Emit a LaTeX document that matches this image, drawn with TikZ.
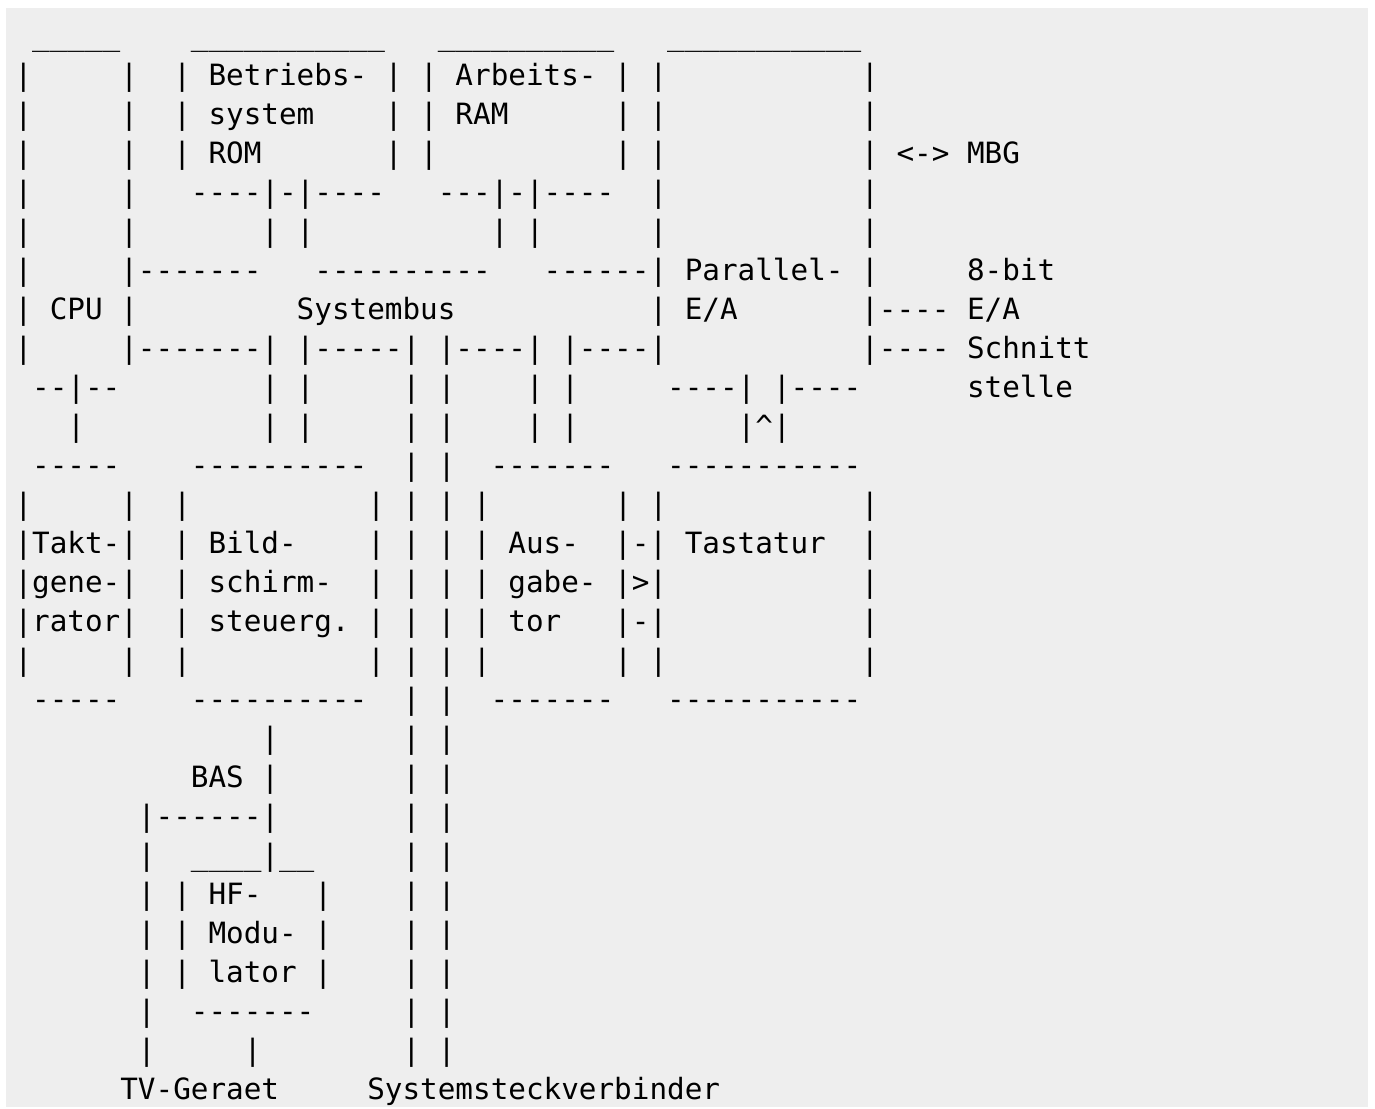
\documentclass[tikz,border=0pt]{standalone}
\usepackage{fontspec}
\setmonofont{DejaVu Sans Mono}
\newcommand\gap[1]{\hspace*{#1\fontcharwd\font`x}}
\definecolor{codebg}{HTML}{EEEEEE}
\tikzset{
  ln/.style={anchor=base west, inner sep=0pt, outer sep=0pt,
    font=\ttfamily\fontsize{14.65}{18}\selectfont, text=black}
}
\begin{document}
\begin{tikzpicture}[x=0.5pt,y=-0.5pt]
\useasboundingbox (0,0) rectangle (1375,1108);
\fill[codebg] (6,8) rectangle (1368,1107);
\node[ln] (l0)  at (14.5,46)  {~\_\_\_\_\_\gap{4}\_\_\_\_\_\_\_\_\_\_\_\gap{3}\_\_\_\_\_\_\_\_\_\_\gap{3}\_\_\_\_\_\_\_\_\_\_\_};
\node[ln] (l1)  at (14.5,85)  {|\gap{5}|\gap{2}|~Betriebs-~|~|~Arbeits-~|~|\gap{11}|};
\node[ln] (l2)  at (14.5,124) {|\gap{5}|\gap{2}|~system\gap{4}|~|~RAM\gap{6}|~|\gap{11}|};
\node[ln] (l3)  at (14.5,163) {|\gap{5}|\gap{2}|~ROM\gap{7}|~|\gap{10}|~|\gap{11}|~<->~MBG};
\node[ln] (l4)  at (14.5,202) {|\gap{5}|\gap{3}----|-|----\gap{3}---|-|----\gap{2}|\gap{11}|};
\node[ln] (l5)  at (14.5,241) {|\gap{5}|\gap{7}|~|\gap{10}|~|\gap{6}|\gap{11}|};
\node[ln] (l6)  at (14.5,280) {|\gap{5}|-------\gap{3}----------\gap{3}------|~Parallel-~|\gap{5}8-bit};
\node[ln] (l7)  at (14.5,319) {|~CPU~|\gap{9}Systembus\gap{11}|~E/A\gap{7}|----~E/A};
\node[ln] (l8)  at (14.5,358) {|\gap{5}|-------|~|-----|~|----|~|----|\gap{11}|----~Schnitt};
\node[ln] (l9)  at (14.5,397) {~--|--\gap{8}|~|\gap{5}|~|\gap{4}|~|\gap{5}----|~|----\gap{6}stelle};
\node[ln] (l10) at (14.5,436) {\gap{3}|\gap{10}|~|\gap{5}|~|\gap{4}|~|\gap{9}|\textasciicircum|};
\node[ln] (l11) at (14.5,475) {~-----\gap{4}----------\gap{2}|~|\gap{2}-------\gap{3}-----------};
\node[ln] (l12) at (14.5,514) {|\gap{5}|\gap{2}|\gap{10}|~|~|~|\gap{7}|~|\gap{11}|};
\node[ln] (l13) at (14.5,553) {|Takt-|\gap{2}|~Bild-\gap{4}|~|~|~|~Aus-\gap{2}|-|~Tastatur\gap{2}|};
\node[ln] (l14) at (14.5,592) {|gene-|\gap{2}|~schirm-\gap{2}|~|~|~|~gabe-~|>|\gap{11}|};
\node[ln] (l15) at (14.5,631) {|rator|\gap{2}|~steuerg.~|~|~|~|~tor\gap{3}|-|\gap{11}|};
\node[ln] (l16) at (14.5,670) {|\gap{5}|\gap{2}|\gap{10}|~|~|~|\gap{7}|~|\gap{11}|};
\node[ln] (l17) at (14.5,709) {~-----\gap{4}----------\gap{2}|~|\gap{2}-------\gap{3}-----------};
\node[ln] (l18) at (14.5,748) {\gap{14}|\gap{7}|~|};
\node[ln] (l19) at (14.5,787) {\gap{10}BAS~|\gap{7}|~|};
\node[ln] (l20) at (14.5,826) {\gap{7}|------|\gap{7}|~|};
\node[ln] (l21) at (14.5,865) {\gap{7}|\gap{2}\_\_\_\_|\_\_\gap{5}|~|};
\node[ln] (l22) at (14.5,904) {\gap{7}|~|~HF-\gap{3}|\gap{4}|~|};
\node[ln] (l23) at (14.5,943) {\gap{7}|~|~Modu-~|\gap{4}|~|};
\node[ln] (l24) at (14.5,982) {\gap{7}|~|~lator~|\gap{4}|~|};
\node[ln] (l25) at (14.5,1021) {\gap{7}|\gap{2}-------\gap{5}|~|};
\node[ln] (l26) at (14.5,1060) {\gap{7}|\gap{5}|\gap{8}|~|};
\node[ln] (l27) at (14.5,1099) {\gap{6}TV-Geraet\gap{5}Systemsteckverbinder};
\end{tikzpicture}
\end{document}
